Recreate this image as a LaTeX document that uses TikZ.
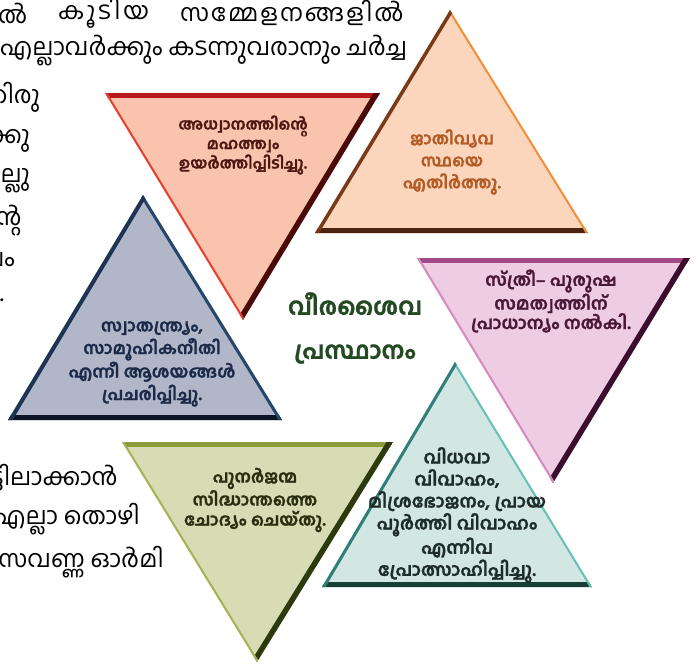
\documentclass[tikz,border=0pt]{standalone}
\usepackage{fontspec}
\newfontfamily\ml[Script=Malayalam]{Hind Kochi}
\newfontfamily\mlb[Script=Malayalam,BoldFeatures={FakeBold=1.2}]{Hind Kochi}
\definecolor{redfill}{HTML}{F9C3AE}\definecolor{redA}{HTML}{B5191C}\definecolor{redB}{HTML}{4A0A08}\definecolor{redC}{HTML}{E8402C}\definecolor{redT}{HTML}{4D1712}
\definecolor{orfill}{HTML}{FBD6BD}\definecolor{orA}{HTML}{4A2410}\definecolor{orB}{HTML}{F0903C}\definecolor{orC}{HTML}{7A3A18}\definecolor{orT}{HTML}{B25A22}
\definecolor{pkfill}{HTML}{EECDE4}\definecolor{pkA}{HTML}{A24A86}\definecolor{pkB}{HTML}{3C0E2E}\definecolor{pkC}{HTML}{D68ABD}\definecolor{pkT}{HTML}{4A1838}
\definecolor{blfill}{HTML}{B1B7C9}\definecolor{blA}{HTML}{0C1526}\definecolor{blB}{HTML}{26476A}\definecolor{blC}{HTML}{1D3553}\definecolor{blT}{HTML}{1C2A48}
\definecolor{olfill}{HTML}{D8DCB4}\definecolor{olA}{HTML}{8C9C3A}\definecolor{olB}{HTML}{2C3A0E}\definecolor{olC}{HTML}{A6B256}\definecolor{olT}{HTML}{2A2E10}
\definecolor{tlfill}{HTML}{D2E7E3}\definecolor{tlA}{HTML}{163F36}\definecolor{tlB}{HTML}{68C1B7}\definecolor{tlC}{HTML}{2F7F78}\definecolor{tlT}{HTML}{1E2C2A}
\definecolor{centreT}{HTML}{244A24}
\newcommand\bevtri[7]{%
  \fill[#4] (#1)--(#2)--(#3)--cycle;
  \begin{scope}
    \clip (#1)--(#2)--(#3)--cycle;
    \draw[#5] (#1)--(#2);
    \draw[#6] (#2)--(#3);
    \draw[#7] (#3)--(#1);
  \end{scope}}
\tikzset{
  tritext/.style 2 args={align=center, inner sep=0pt, font=\mlb\bfseries\fontsize{#1}{#2}\selectfont},
  bgtext/.style={anchor=west, inner sep=0pt, font=\ml\fontsize{24}{28}\selectfont, text=black},
  centretext/.style={align=center, inner sep=0pt, text=centreT, font=\mlb\bfseries\fontsize{24}{44}\selectfont}
}
\begin{document}
\begin{tikzpicture}[x=1pt,y=-1pt]
\useasboundingbox (0,0) rectangle (696,669);
% background text
\node[bgtext] (t1a) at (-2,13) {ൽ};
\node[bgtext] (t1b) at (58,13) {\addfontfeatures{LetterSpace=12}കൂടിയ};
\node[bgtext] (t1c) at (180,13) {\addfontfeatures{LetterSpace=8}സമ്മേളനങ്ങളിൽ};
\node[bgtext] (t2) at (0,51) {എല്ലാവർക്കും കടന്നുവരാനും ചർച്ച};
\node[bgtext, anchor=east] (l1) at (40,97) {തിരു};
\node[bgtext, anchor=east] (l2) at (30,141) {ക്കു};
\node[bgtext, anchor=east] (l3) at (30,181) {ല്ലു};
\node[bgtext, anchor=east] (l4) at (22,221) {ന്റ};
\node[bgtext, anchor=east] (l5) at (15,260) {വം};
\node[bgtext, anchor=east] (l6) at (4,300) {.};
\node[bgtext, anchor=east] (b1) at (118,478) {ട്ടിലാക്കാൻ};
\node[bgtext, anchor=east] (b2) at (140,519) {എല്ലാ തൊഴി};
\node[bgtext, anchor=east] (b3) at (164,562) {സവണ്ണ ഓർമി};
% triangles
\coordinate (rA) at (105,93); \coordinate (rB) at (380,93); \coordinate (rC) at (243,320);
\coordinate (oA) at (315,233); \coordinate (oB) at (588,233); \coordinate (oC) at (450,10);
\coordinate (pA) at (417,258); \coordinate (pB) at (690,258); \coordinate (pC) at (553,483);
\coordinate (bA) at (8,420); \coordinate (bB) at (282,420); \coordinate (bC) at (143,195);
\coordinate (gA) at (122,442); \coordinate (gB) at (393,442); \coordinate (gC) at (257,662);
\coordinate (tA) at (322,587); \coordinate (tB) at (592,587); \coordinate (tC) at (455,362);
\bevtri{rA}{rB}{rC}{redfill}{redA,line width=9}{redB,line width=11}{redC,line width=4}
\bevtri{oA}{oB}{oC}{orfill}{orA,line width=11}{orB,line width=4}{orC,line width=7}
\bevtri{pA}{pB}{pC}{pkfill}{pkA,line width=9}{pkB,line width=11}{pkC,line width=4}
\bevtri{bA}{bB}{bC}{blfill}{blA,line width=11}{blB,line width=6}{blC,line width=8}
\bevtri{gA}{gB}{gC}{olfill}{olA,line width=9}{olB,line width=11}{olC,line width=4}
\bevtri{tA}{tB}{tC}{tlfill}{tlA,line width=11}{tlB,line width=4}{tlC,line width=6}
% triangle texts
\node[tritext={15.5}{19.5}, text=redT] (rtext) at (243,145) {അധ്വാനത്തിന്റെ\\മഹത്ത്വം\\ഉയർത്തിപ്പിടിച്ചു.};
\node[tritext={16.5}{22}, text=orT] (otext) at (452,162) {ജാതിവ്യവ\\സ്ഥയെ\\എതിർത്തു.};
\node[tritext={17.5}{19.5}, text=pkT] (ptext) at (551,301) {സ്ത്രീ– പുരുഷ\\സമത്വത്തിന്\\പ്രാധാന്യം നൽകി.};
\node[tritext={17}{22.5}, text=blT] (btext) at (152,364) {സ്വാതന്ത്ര്യം,\\സാമൂഹികനീതി\\എന്നീ ആശയങ്ങൾ\\പ്രചരിപ്പിച്ചു.};
\node[tritext={17}{20}, text=olT] (gtext) at (255,500) {പുനർജന്മ\\സിദ്ധാന്തത്തെ\\ചോദ്യം ചെയ്തു.};
\node[tritext={18}{22}, text=tlT] (ttext) at (457,515) {വിധവാ\\വിവാഹം,\\മിശ്രഭോജനം, പ്രായ\\പൂർത്തി വിവാഹം\\എന്നിവ\\പ്രോത്സാഹിപ്പിച്ചു.};
% centre
\node[centretext] (centre) at (355,328) {വീരശൈവ\\പ്രസ്ഥാനം};
\end{tikzpicture}
\end{document}
